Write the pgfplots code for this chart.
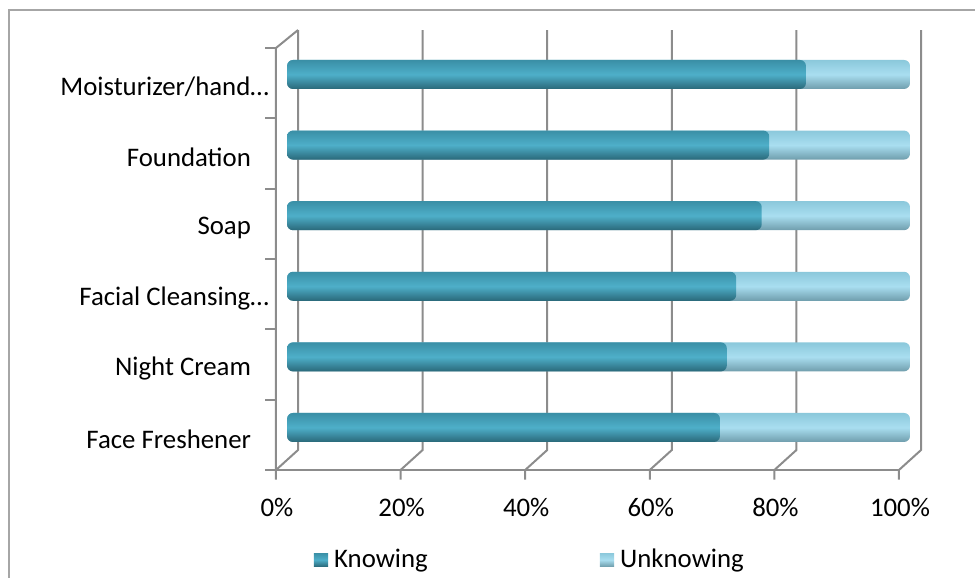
\documentclass[border=0pt]{standalone}
\usepackage{pgfplots}
\usepackage{pgfplotstable}
\pgfplotsset{compat=1.18}
\usepackage{fontspec}
\setmainfont{Carlito}
\definecolor{gridc}{HTML}{8C8C8C}
\definecolor{kTop}{HTML}{3A8FA6}
\definecolor{kMid}{HTML}{4EAFC9}
\definecolor{kBot}{HTML}{2A6879}
\definecolor{uTop}{HTML}{8BC8DB}
\definecolor{uMid}{HTML}{A9DEF0}
\definecolor{uBot}{HTML}{6F9DAC}
\definecolor{framec}{HTML}{A6A6A6}
\pgfplotstableread{
k knowing unknowing
0 69.5 30.5
1 70.6 29.4
2 72.1 27.9
3 76.2 23.8
4 77.4 22.6
5 83.3 16.7
}\datatable
\pgfplotsset{
  kstyle/.style={xbar, bar width=14.5pt, bar shift=0pt, draw=none, rounded corners=3pt, top color=kTop, bottom color=kBot, middle color=kMid},
  ustyle/.style={xbar, bar width=14.5pt, bar shift=0pt, draw=none, rounded corners=3pt, top color=uTop, bottom color=uBot, middle color=uMid},
}
\begin{document}
\begin{tikzpicture}
\begin{axis}[
  x=3.115pt, y=35.3pt,
  xmin=-1.77, xmax=101.9, ymin=-0.73, ymax=5.63,
  clip=false,
  axis line style={draw=none},
  tick style={draw=none},
  xtick={0,20,40,60,80,100},
  xticklabels={0\%,20\%,40\%,60\%,80\%,100\%},
  xticklabel style={xshift=-5pt, yshift=-6pt},
  ytick={0,1,2,3,4,5},
  yticklabels={Face Freshener\hspace*{9pt},Night Cream\hspace*{9pt},Facial Cleansing…,Soap\hspace*{9pt},Foundation\hspace*{9pt},Moisturizer/hand…},
  yticklabel style={yshift=-6pt},
  tick label style={font=\fontsize{13.4pt}{16pt}\selectfont, text=black},
  legend columns=2,
  legend cell align=left,
  legend style={draw=none, fill=none, at={(0.396,-0.18)}, anchor=center,
    font=\fontsize{13.4pt}{16pt}\selectfont,
    nodes={inner xsep=3pt},
    /tikz/every even column/.append style={column sep=83pt}},
  legend image code/.code={\path[#1, draw=none, rounded corners=0pt] (0pt,-3.4pt) rectangle (7.2pt,3.4pt);},
]
% pseudo-3D walls and grid
\draw[gridc, line width=1pt] (axis cs:-1.77,-0.74) -- (axis cs:-1.77,5.375) -- (axis cs:1.77,5.63);
\draw[gridc, line width=1pt] (axis cs:-1.77,-0.602) -- (axis cs:98.23,-0.602);
\draw[gridc, line width=1pt] (axis cs:-1.77,-0.602) -- (axis cs:1.77,-0.319) -- (axis cs:1.77,5.63);
\draw[gridc, line width=1pt] (axis cs:18.23,-0.74) -- (axis cs:18.23,-0.602) -- (axis cs:21.77,-0.319) -- (axis cs:21.77,5.63);
\draw[gridc, line width=1pt] (axis cs:38.23,-0.74) -- (axis cs:38.23,-0.602) -- (axis cs:41.77,-0.319) -- (axis cs:41.77,5.63);
\draw[gridc, line width=1pt] (axis cs:58.23,-0.74) -- (axis cs:58.23,-0.602) -- (axis cs:61.77,-0.319) -- (axis cs:61.77,5.63);
\draw[gridc, line width=1pt] (axis cs:78.23,-0.74) -- (axis cs:78.23,-0.602) -- (axis cs:81.77,-0.319) -- (axis cs:81.77,5.63);
\draw[gridc, line width=1pt] (axis cs:98.23,-0.74) -- (axis cs:98.23,-0.602) -- (axis cs:101.77,-0.319) -- (axis cs:101.77,5.63);
\draw[gridc, line width=1pt] (axis cs:-3.5,-0.602) -- (axis cs:-1.77,-0.602);
\draw[gridc, line width=1pt] (axis cs:-3.5,0.394) -- (axis cs:-1.77,0.394);
\draw[gridc, line width=1pt] (axis cs:-3.5,1.390) -- (axis cs:-1.77,1.390);
\draw[gridc, line width=1pt] (axis cs:-3.5,2.386) -- (axis cs:-1.77,2.386);
\draw[gridc, line width=1pt] (axis cs:-3.5,3.382) -- (axis cs:-1.77,3.382);
\draw[gridc, line width=1pt] (axis cs:-3.5,4.378) -- (axis cs:-1.77,4.378);
\draw[gridc, line width=1pt] (axis cs:-3.5,5.375) -- (axis cs:-1.77,5.375);
% outer frame
\draw[framec, line width=0.8pt] (axis cs:-44.62,-2.2) -- (axis cs:-44.62,5.914) -- (axis cs:111,5.914);
\coordinate (bbl) at (axis cs:-46.07,-2.132);
\coordinate (btr) at (axis cs:110.43,6.055);
% legend
\addlegendimage{kstyle}
\addlegendentry{Knowing}
\addlegendimage{ustyle}
\addlegendentry{Unknowing}
% 100% stacked bars, one per category so each bar gets its own cylinder shading
% Unknowing segment: drawn from 0 to knowing+unknowing (=100%), Knowing drawn on top
\addplot[ustyle, forget plot, restrict y to domain=-0.1:0.1] table[x expr=\thisrow{knowing}+\thisrow{unknowing}, y=k] {\datatable};
\addplot[ustyle, forget plot, restrict y to domain=0.9:1.1] table[x expr=\thisrow{knowing}+\thisrow{unknowing}, y=k] {\datatable};
\addplot[ustyle, forget plot, restrict y to domain=1.9:2.1] table[x expr=\thisrow{knowing}+\thisrow{unknowing}, y=k] {\datatable};
\addplot[ustyle, forget plot, restrict y to domain=2.9:3.1] table[x expr=\thisrow{knowing}+\thisrow{unknowing}, y=k] {\datatable};
\addplot[ustyle, forget plot, restrict y to domain=3.9:4.1] table[x expr=\thisrow{knowing}+\thisrow{unknowing}, y=k] {\datatable};
\addplot[ustyle, forget plot, restrict y to domain=4.9:5.1] table[x expr=\thisrow{knowing}+\thisrow{unknowing}, y=k] {\datatable};
\addplot[kstyle, forget plot, restrict y to domain=-0.1:0.1] table[x=knowing, y=k] {\datatable};
\addplot[kstyle, forget plot, restrict y to domain=0.9:1.1] table[x=knowing, y=k] {\datatable};
\addplot[kstyle, forget plot, restrict y to domain=1.9:2.1] table[x=knowing, y=k] {\datatable};
\addplot[kstyle, forget plot, restrict y to domain=2.9:3.1] table[x=knowing, y=k] {\datatable};
\addplot[kstyle, forget plot, restrict y to domain=3.9:4.1] table[x=knowing, y=k] {\datatable};
\addplot[kstyle, forget plot, restrict y to domain=4.9:5.1] table[x=knowing, y=k] {\datatable};
\end{axis}
\pgfresetboundingbox
\path[use as bounding box] (bbl) rectangle (btr);
\end{tikzpicture}
\end{document}
